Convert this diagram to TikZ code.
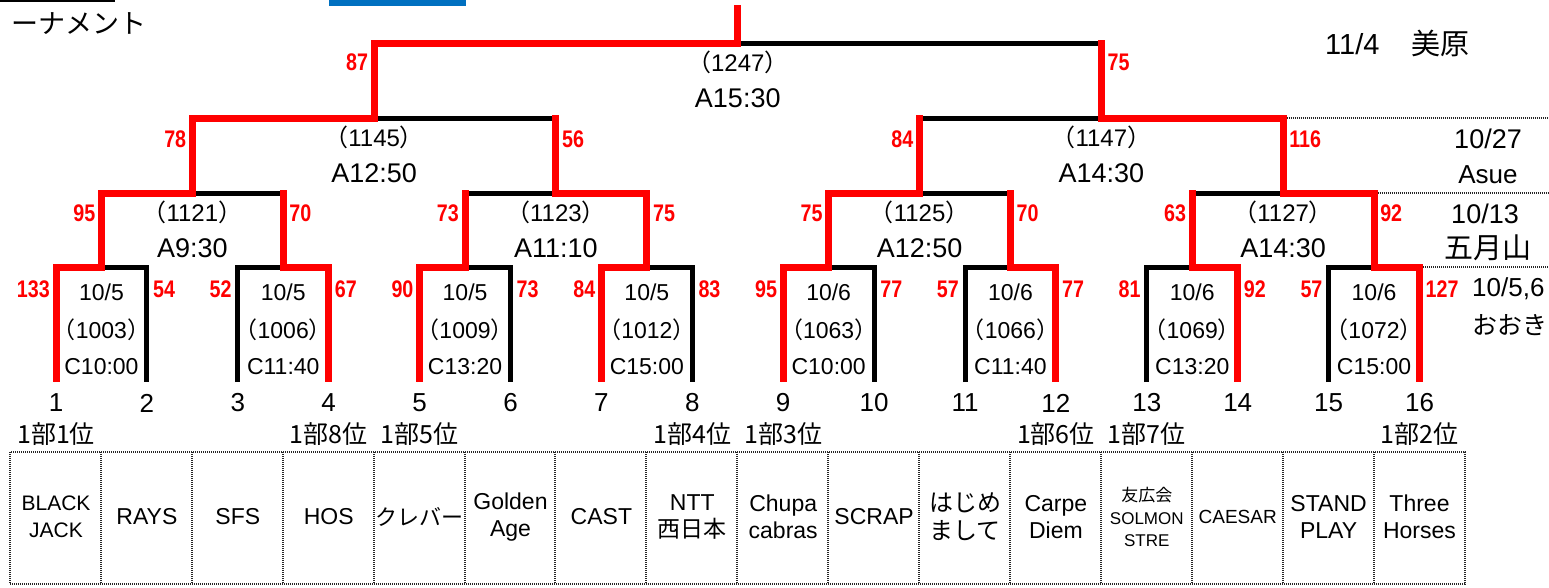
\documentclass[tikz,border=0pt]{standalone}
\usepackage{fontspec}
\setmainfont{Liberation Sans}
\newfontfamily\jp{Noto Sans CJK JP}
\usepackage{graphicx}
\usetikzlibrary{calc}
\definecolor{wred}{RGB}{255,0,0}
\definecolor{xlblue}{RGB}{0,112,192}
\newcommand\fsz[1]{\fontsize{#1}{#1}\selectfont}
\newcommand\rsc[1]{\scalebox{0.82}[1]{\bfseries #1}}
\newcommand\pn[1]{{\jp （}#1{\jp ）}}
\tikzset{
 blk/.style={draw=black,line width=5pt,line join=miter},
 rd/.style={draw=wred,line width=7pt,line cap=rect,line join=miter},
 scl/.style={anchor=east,inner sep=0pt,text=wred,font=\fsz{24}},
 scr/.style={anchor=west,inner sep=0pt,text=wred,font=\fsz{24}},
 lbl/.style={inner sep=0pt,font=\fsz{23}},
 plbl/.style={inner sep=0pt,font=\fsz{24}},
 big/.style={inner sep=0pt,font=\fsz{27}},
 dotb/.style={draw=black!85,line width=2pt,dash pattern=on 1pt off 1pt},
 nm/.style={inner sep=0pt,align=center,font=\fontsize{23}{27}\selectfont},
 jnm/.style={inner sep=0pt,align=center,font=\jp\fontsize{24}{28}\selectfont},
}
\begin{document}
\begin{tikzpicture}[x=1pt,y=-1pt]
\useasboundingbox (0,0) rectangle (1549,587);
% coordinates
\foreach \i in {1,...,16}{\coordinate (t\i) at ({56+(\i-1)*90.9},382);}
\foreach \k in {1,...,8}{\coordinate (m\k) at ({56+(2*\k-1.5)*90.9},267);}
\foreach \k in {1,...,4}{\coordinate (s\k) at ({56+(4*\k-2.5)*90.9},193);}
\foreach \k in {1,2}{\coordinate (q\k) at ({56+(8*\k-4.5)*90.9},118);}
\coordinate (f) at ({56+7.5*90.9},43);
\coordinate (top) at ({56+7.5*90.9},5);
% header
\fill[black] (0,0) rectangle (115,1.5);
\fill[xlblue] (329,0) rectangle (466,6);
\node[anchor=west,inner sep=0pt,font=\jp\fsz{27}] (title) at (11,24) {ーナメント};
% black bracket
\foreach \k in {1,...,8}{\pgfmathtruncatemacro\a{2*\k-1}\pgfmathtruncatemacro\b{2*\k}\draw[blk] (t\a) |- (m\k) -| (t\b);}
\foreach \k in {1,...,4}{\pgfmathtruncatemacro\a{2*\k-1}\pgfmathtruncatemacro\b{2*\k}\draw[blk] (m\a) |- (s\k) -| (m\b);}
\foreach \k in {1,2}{\pgfmathtruncatemacro\a{2*\k-1}\pgfmathtruncatemacro\b{2*\k}\draw[blk] (s\a) |- (q\k) -| (s\b);}
\draw[blk] (q1) |- (f) -| (q2);
\draw[blk] (f) -- (top);
% red winner paths
\draw[rd,shorten <=3.5pt,shorten >=3.5pt] (t1) |- (m1) |- (s1) |- (q1) |- (f) -- (top);
\draw[rd,shorten <=3.5pt] (t4) |- (m2) -- (m2 |- s1);
\draw[rd,shorten <=3.5pt] (t5) |- (m3) -- (m3 |- s2);
\draw[rd,shorten <=3.5pt] (t7) |- (m4) |- (s2) -- (s2 |- q1);
\draw[rd,shorten <=3.5pt] (t9) |- (m5) |- (s3) -- (s3 |- q2);
\draw[rd,shorten <=3.5pt] (t12) |- (m6) -- (m6 |- s3);
\draw[rd,shorten <=3.5pt] (t14) |- (m7) -- (m7 |- s4);
\draw[rd,shorten <=3.5pt] (t16) |- (m8) |- (s4) |- (q2) -- (q2 |- f);
% right-side dotted separators
\draw[dotb] ($(s4 |- q2)+(3.5,0)$) -- (1549,118);
\draw[dotb] ($(m8 |- s4)+(3.5,0)$) -- (1549,193);
\draw[dotb] ($(t16 |- m8)+(3.5,0)$) -- (1549,267);
% scores
\foreach \i/\v in {1/133,3/52,5/90,7/84,9/95,11/57,13/81,15/57}{\node[scl] (ra\i) at ($(t\i)+(-6,-93)$) {\rsc{\v}};}
\foreach \i/\v in {2/54,4/67,6/73,8/83,10/77,12/77,14/92,16/127}{\node[scr] (ra\i) at ($(t\i)+(6,-93)$) {\rsc{\v}};}
\foreach \i/\v in {1/95,3/73,5/75,7/63}{\node[scl] (rb\i) at ($(m\i)+(-6,-54)$) {\rsc{\v}};}
\foreach \i/\v in {2/70,4/75,6/70,8/92}{\node[scr] (rb\i) at ($(m\i)+(6,-54)$) {\rsc{\v}};}
\node[scl] (rc1) at ($(s1)+(-6,-54)$) {\rsc{78}};
\node[scr] (rc2) at ($(s2)+(6,-54)$) {\rsc{56}};
\node[scl] (rc3) at ($(s3)+(-6,-54)$) {\rsc{84}};
\node[scr] (rc4) at ($(s4)+(6,-54)$) {\rsc{116}};
\node[scl] (rf1) at ($(q1)+(-6,-56)$) {\rsc{87}};
\node[scr] (rf2) at ($(q2)+(6,-56)$) {\rsc{75}};
% match labels
\foreach \k/\d/\n/\c in {1/5/1003/10:00,2/5/1006/11:40,3/5/1009/13:20,4/5/1012/15:00,5/6/1063/10:00,6/6/1066/11:40,7/6/1069/13:20,8/6/1072/15:00}{
 \node[lbl] (da\k) at ($(m\k)+(0,25)$) {10/\d};
 \node[lbl] (na\k) at ($(m\k)+(0,63)$) {\pn{\n}};
 \node[lbl] (ca\k) at ($(m\k)+(0,100)$) {C\c};}
\foreach \k/\n/\c in {1/1121/9:30,2/1123/11:10,3/1125/12:50,4/1127/14:30}{
 \node[plbl] (nb\k) at ($(s\k)+(0,19)$) {\pn{\n}};
 \node[big] (cb\k) at ($(s\k)+(0,55)$) {A\c};}
\foreach \k/\n/\c in {1/1145/12:50,2/1147/14:30}{
 \node[plbl] (nc\k) at ($(q\k)+(0,19)$) {\pn{\n}};
 \node[big] (cc\k) at ($(q\k)+(0,55)$) {A\c};}
\node[plbl] (nf) at ($(f)+(0,19)$) {\pn{1247}};
\node[big] (cf) at ($(f)+(0,55)$) {A15:30};
% team numbers and ranks
\foreach \i in {1,...,16}{\node[inner sep=0pt,font=\fsz{26}] (tn\i) at ($(t\i)+(0,21)$) {\i};}
\foreach \i/\r in {1/1,4/8,5/5,8/4,9/3,12/6,13/7,16/2}{\node[inner sep=0pt,font=\jp\fsz{25}] (rk\i) at ($(t\i)+(0,52)$) {1部{\r}位};}
% table
\draw[dotb] (10,452) rectangle (1465,584);
\foreach \k in {1,...,15}{\draw[dotb] ({10+\k*90.9},452) -- ({10+\k*90.9},584);}
\node[nm,font=\fontsize{21}{27}\selectfont] (n1) at ($(t1)+(0,135)$) {BLACK\\JACK};
\node[nm] (n2) at ($(t2)+(0,135)$) {RAYS};
\node[nm] (n3) at ($(t3)+(0,135)$) {SFS};
\node[nm] (n4) at ($(t4)+(0,135)$) {HOS};
\node[jnm,font=\jp\fsz{22}] (n5) at ($(t5)+(0,135)$) {クレバー};
\node[nm] (n6) at ($(t6)+(0,135)$) {Golden\\Age};
\node[nm] (n7) at ($(t7)+(0,135)$) {CAST};
\node[nm] (n8) at ($(t8)+(0,135)$) {NTT\\{\jp 西日本}};
\node[nm] (n9) at ($(t9)+(0,135)$) {Chupa\\cabras};
\node[nm] (n10) at ($(t10)+(0,135)$) {SCRAP};
\node[jnm] (n11) at ($(t11)+(0,135)$) {はじめ\\まして};
\node[nm] (n12) at ($(t12)+(0,135)$) {Carpe\\Diem};
\node[nm,font=\fontsize{17}{22.5}\selectfont] (n13) at ($(t13)+(0,135)$) {{\jp 友広会}\\SOLMON\\STRE};
\node[nm,font=\fsz{19}] (n14) at ($(t14)+(0,135)$) {CAESAR};
\node[nm] (n15) at ($(t15)+(0,135)$) {STAND\\PLAY};
\node[nm] (n16) at ($(t16)+(0,135)$) {Three\\Horses};
% right-side venue labels
\node[anchor=west,inner sep=0pt,font=\fsz{29}] (v1) at (1325,43) {\makebox[86pt][l]{11/4}{\jp 美原}};
\node[inner sep=0pt,font=\fsz{27}] (v2a) at (1488,139) {10/27};
\node[inner sep=0pt,font=\fsz{26}] (v2b) at (1488,175) {Asue};
\node[inner sep=0pt,font=\fsz{27}] (v3a) at (1485,214) {10/13};
\node[inner sep=0pt,font=\jp\fsz{29}] (v3b) at (1488,248) {五月山};
\node[anchor=west,inner sep=0pt,font=\fsz{26}] (v4a) at (1472,289) {10/5,6};
\node[anchor=west,inner sep=0pt,font=\jp\fsz{25}] (v4b) at (1472,325) {おおき};
\end{tikzpicture}
\end{document}
